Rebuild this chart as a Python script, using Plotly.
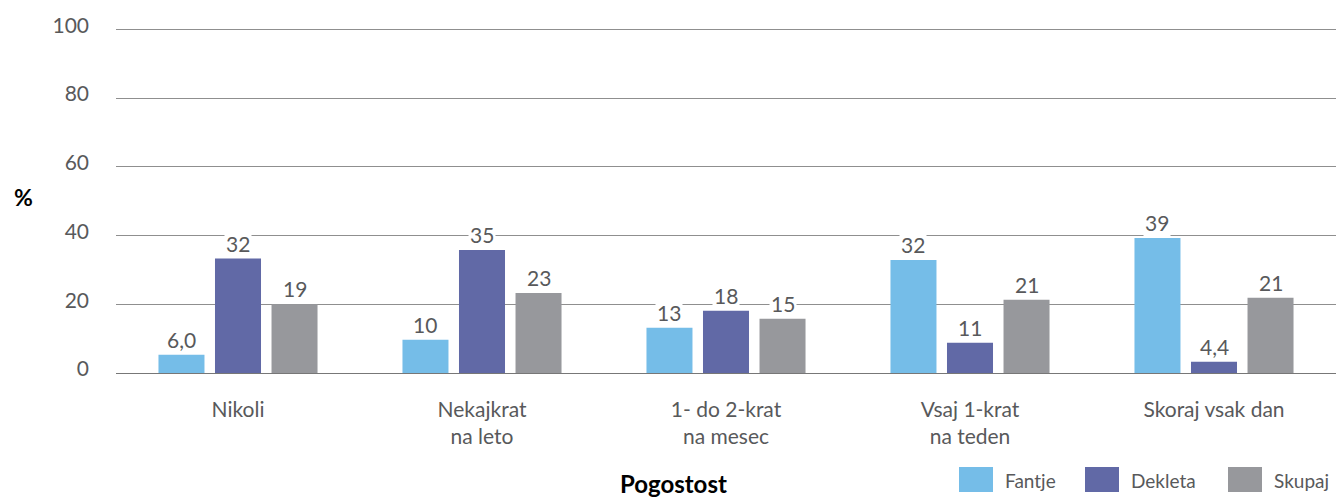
import plotly.graph_objects as go

categories = ["Nikoli", "Nekajkrat<br>na leto", "1- do 2-krat<br>na mesec", "Vsaj 1-krat<br>na teden", "Skoraj vsak dan"]
series_names = ["Fantje", "Dekleta", "Skupaj"]
fantje = [5.3, 9.7, 13.2, 32.9, 39.3]
dekleta = [33.3, 35.8, 18.1, 8.8, 3.3]
skupaj = [20.0, 23.3, 15.8, 21.3, 21.9]
fantje_labels = ["6,0", "10", "13", "32", "39"]
dekleta_labels = ["32", "35", "18", "11", "4,4"]
skupaj_labels = ["19", "23", "15", "21", "21"]
y_ticks = [0, 20, 40, 60, 80, 100]

colors = ["#75BDE8", "#6169A6", "#97989C"]
values = [fantje, dekleta, skupaj]
labels = [fantje_labels, dekleta_labels, skupaj_labels]

FONT = "Lato"
TXT = "#58595B"
W, H = 1336, 497
ML, MR, MT, MB = 116, 0, 28, 124
PW, PH = W - ML - MR, H - MT - MB
bargap = 0.305
bargroupgap = 0.186


def px(x):
    return (x - ML) / PW


def py(y):
    return (H - MB - y) / PH


fig = go.Figure()
for name, vals, col in zip(series_names, values, colors):
    fig.add_trace(go.Bar(x=categories, y=vals, name=name, showlegend=False, hoverinfo="skip",
                         marker=dict(color=col, line=dict(width=0))))

slot = (1 - bargap) / len(series_names)
annotations = []
for j, (vals, labs) in enumerate(zip(values, labels)):
    for i, (v, t) in enumerate(zip(vals, labs)):
        annotations.append(dict(
            x=i + (j - 1) * slot, y=v, xref="x", yref="y", text=t, showarrow=False,
            yanchor="bottom", yshift=1, bgcolor="white", borderpad=1,
            font=dict(family=FONT, size=21, color=TXT)))

annotations.append(dict(x=px(23), y=py(197), xref="paper", yref="paper", text="<b>%</b>",
                        xanchor="center", yanchor="middle",
                        showarrow=False, font=dict(family=FONT, size=23, color="black")))
annotations.append(dict(x=px(673), y=py(483), xref="paper", yref="paper", text="<b>Pogostost</b>",
                        xanchor="center", yanchor="middle",
                        showarrow=False, font=dict(family=FONT, size=24, color="black")))

# legend (layout decoration)
shapes = []
leg_sq_left = [959, 1085, 1228]
for name, col, sx in zip(series_names, colors, leg_sq_left):
    shapes.append(dict(type="rect", xref="paper", yref="paper",
                       x0=px(sx), x1=px(sx + 34), y0=py(492), y1=py(467),
                       fillcolor=col, line=dict(width=0)))
    annotations.append(dict(x=px(sx + 44), y=py(480), xref="paper", yref="paper", text=name,
                            xanchor="left", yanchor="middle", showarrow=False,
                            font=dict(family=FONT, size=19, color=TXT)))

fig.update_layout(
    width=W, height=H,
    margin=dict(l=ML, r=MR, t=MT, b=MB, autoexpand=False),
    plot_bgcolor="white", paper_bgcolor="white",
    barmode="group", bargap=bargap, bargroupgap=bargroupgap,
    font=dict(family=FONT, size=20, color=TXT),
    showlegend=False,
    annotations=annotations,
    shapes=shapes,
)
fig.update_xaxes(showgrid=False, showline=False, automargin=False,
                 ticks="", ticklabelstandoff=22,
                 tickfont=dict(family=FONT, size=21, color=TXT))
fig.update_yaxes(range=[0, 100.4], tickvals=y_ticks, showgrid=True, gridcolor="#8f8f8f", gridwidth=1,
                 zeroline=True, zerolinecolor="#777777", zerolinewidth=1, automargin=False,
                 ticks="", ticklabelstandoff=26, ticklabelshift=-4,
                 tickfont=dict(family=FONT, size=21, color=TXT))

fig.write_html("out.html", config={"displayModeBar": False},
               post_script="document.body.style.margin='0';document.body.style.overflow='hidden';")
